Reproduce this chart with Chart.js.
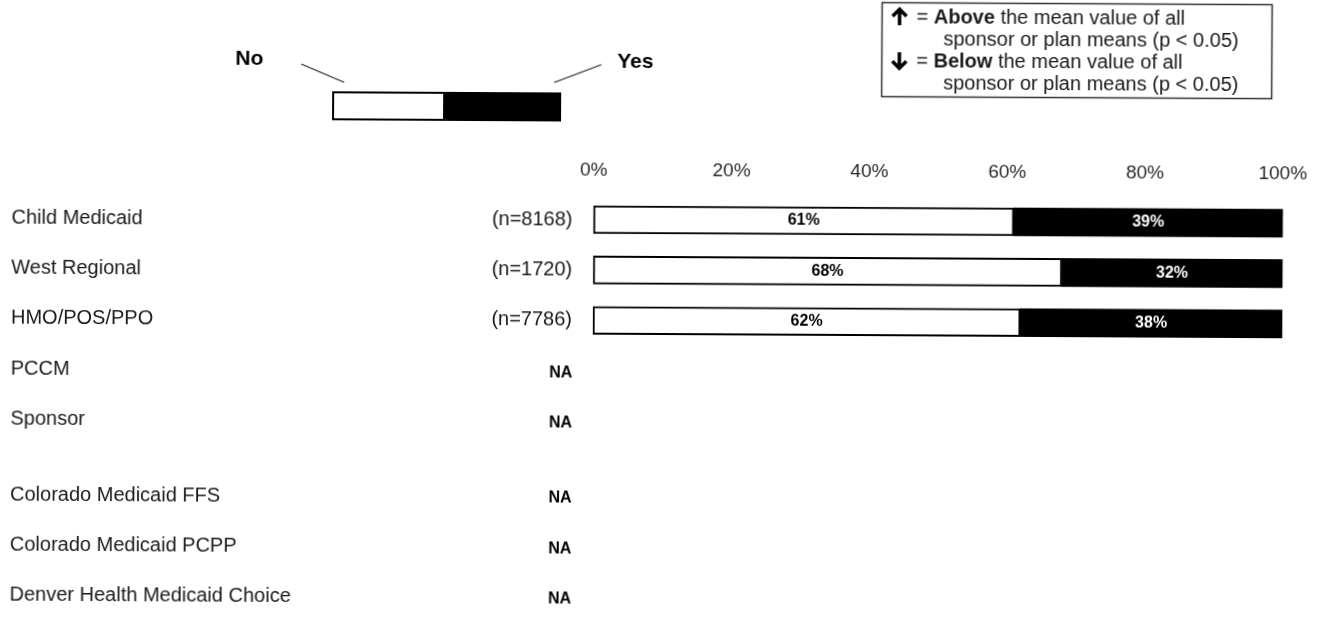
<!DOCTYPE html>
<html>
<head>
<meta charset="utf-8">
<script src="https://cdn.jsdelivr.net/npm/chart.js@4"></script>
<style>
  html, body { margin: 0; padding: 0; background: #fff; overflow: hidden; }
  /* the scanned original is tilted a little */
  #chart { display: block; transform: rotate(0.3deg); }
</style>
</head>
<body>
<canvas id="chart" width="1322" height="637"></canvas>
<script>
const categories = ['Child Medicaid', 'West Regional', 'HMO/POS/PPO', 'PCCM', 'Sponsor',
    'Colorado Medicaid FFS', 'Colorado Medicaid PCPP', 'Denver Health Medicaid Choice'];
const sampleSizes = [8168, 1720, 7786, null, null, null, null, null];
const noValues = [61, 68, 62, null, null, null, null, null];
const yesValues = [39, 32, 38, null, null, null, null, null];
const groupSizes = [5, 3];
const xTickValues = [0, 20, 40, 60, 80, 100];

const FONT = '"Liberation Sans", Arial, Helvetica, sans-serif';

// spread the rows over half-slots so the two groups get a wider gap between them
const slotOf = [];
const slotLabels = [];
let idx = 0;
groupSizes.forEach((size, g) => {
    if (g > 0) slotLabels.push('');
    for (let i = 0; i < size; i++) {
        if (slotLabels.length > 0) slotLabels.push('');
        slotOf.push(slotLabels.length);
        slotLabels.push(categories[idx]);
        idx++;
    }
});
const slotNo = slotLabels.map(() => null);
const slotYes = slotLabels.map(() => null);
categories.forEach((c, i) => {
    slotNo[slotOf[i]] = noValues[i];
    slotYes[slotOf[i]] = yesValues[i];
});

function drawArrow(ctx, x, top, bottom, up) {
    ctx.save();
    ctx.strokeStyle = '#000';
    ctx.lineWidth = 3.5;
    ctx.beginPath();
    ctx.moveTo(x, top); ctx.lineTo(x, bottom);
    if (up) {
        ctx.moveTo(x - 7, top + 7); ctx.lineTo(x, top); ctx.lineTo(x + 7, top + 7);
    } else {
        ctx.moveTo(x - 7, bottom - 7); ctx.lineTo(x, bottom); ctx.lineTo(x + 7, bottom - 7);
    }
    ctx.stroke();
    ctx.restore();
}

const overlayPlugin = {
    id: 'overlay',
    afterDatasetsDraw(chart) {
        const ctx = chart.ctx;
        const y = chart.scales.y;
        ctx.save();

        // segment labels
        ctx.textAlign = 'center';
        ctx.textBaseline = 'middle';
        ctx.font = 'bold 16px ' + FONT;
        chart.data.datasets.forEach((ds, di) => {
            chart.getDatasetMeta(di).data.forEach((bar, i) => {
                if (ds.data[i] == null) return;
                ctx.fillStyle = di === 0 ? '#000' : '#fff';
                ctx.fillText(ds.data[i] + '%', (bar.base + bar.x) / 2, bar.y);
            });
        });

        // row labels, n and NA
        categories.forEach((c, i) => {
            const py = y.getPixelForValue(slotOf[i]);
            ctx.textBaseline = 'middle';
            ctx.fillStyle = '#1a1a1a';
            ctx.font = '20px ' + FONT;
            ctx.textAlign = 'left';
            ctx.fillText(c, 11, py + 1);
            if (sampleSizes[i] != null) {
                ctx.textAlign = 'right';
                ctx.fillText('(n=' + sampleSizes[i] + ')', 572, py);
            } else {
                ctx.textAlign = 'center';
                ctx.fillStyle = '#000';
                ctx.font = 'bold 16px ' + FONT;
                ctx.fillText('NA', 561, py + 2);
            }
        });

        // No / Yes key
        ctx.fillStyle = '#000';
        ctx.font = 'bold 21px ' + FONT;
        ctx.textAlign = 'center';
        ctx.fillText('No', 248, 61);
        ctx.fillText('Yes', 634, 62);
        ctx.strokeStyle = '#222';
        ctx.lineWidth = 1.2;
        ctx.beginPath();
        ctx.moveTo(300, 66); ctx.lineTo(343, 84);
        ctx.moveTo(600, 65); ctx.lineTo(553, 83);
        ctx.stroke();
        ctx.fillStyle = '#fff';
        ctx.fillRect(331, 93, 112, 29);
        ctx.strokeStyle = '#000';
        ctx.lineWidth = 2;
        ctx.strokeRect(332, 94, 111, 27);
        ctx.fillStyle = '#000';
        ctx.fillRect(443, 93, 117, 29);

        // significance box
        ctx.strokeStyle = '#333';
        ctx.lineWidth = 1.5;
        ctx.strokeRect(880.5, 1.5, 390, 94);
        drawArrow(ctx, 898, 8, 24, true);
        drawArrow(ctx, 898, 51, 67, false);
        ctx.fillStyle = '#1a1a1a';
        ctx.textAlign = 'left';
        const lines = [
            [915, 16, '= ', 'Above', ' the mean value of all'],
            [942, 38, '', '', 'sponsor or plan means (p < 0.05)'],
            [915, 60, '= ', 'Below', ' the mean value of all'],
            [942, 82, '', '', 'sponsor or plan means (p < 0.05)']
        ];
        lines.forEach(([lx, ly, pre, bold, rest]) => {
            let x = lx;
            ctx.font = '20px ' + FONT;
            ctx.fillText(pre, x, ly);
            x += ctx.measureText(pre).width;
            ctx.font = 'bold 20px ' + FONT;
            ctx.fillText(bold, x, ly);
            x += ctx.measureText(bold).width;
            ctx.font = '20px ' + FONT;
            ctx.fillText(rest, x, ly);
        });
        ctx.restore();
    }
};

new Chart(document.getElementById('chart'), {
    type: 'bar',
    data: {
        labels: slotLabels,
        datasets: [
            {
                label: 'No',
                data: slotNo,
                backgroundColor: '#fff',
                borderColor: '#000',
                borderWidth: 2,
                borderSkipped: false,
                barThickness: 28,
                clip: false
            },
            {
                label: 'Yes',
                data: slotYes,
                backgroundColor: '#000',
                borderWidth: 0,
                barThickness: 28,
                clip: false
            }
        ]
    },
    options: {
        indexAxis: 'y',
        responsive: false,
        animation: false,
        layout: { padding: { left: 593, right: 40, top: 147.4, bottom: 26.6 } },
        plugins: { legend: { display: false }, tooltip: { enabled: false } },
        scales: {
            x: {
                stacked: true,
                position: 'top',
                min: 0,
                max: 100,
                afterBuildTicks: (scale) => { scale.ticks = xTickValues.map(v => ({ value: v })); },
                afterFit: (scale) => {
                    scale.height = 60;
                    scale.paddingLeft = 0;
                    scale.paddingRight = 0;
                },
                ticks: {
                    padding: 25,
                    color: '#2a2a2a',
                    font: { family: FONT, size: 19 },
                    callback: (v) => v + '%'
                },
                grid: { display: false, drawTicks: false },
                border: { display: false }
            },
            y: {
                stacked: true,
                display: false
            }
        }
    },
    plugins: [overlayPlugin]
});
</script>
</body>
</html>
